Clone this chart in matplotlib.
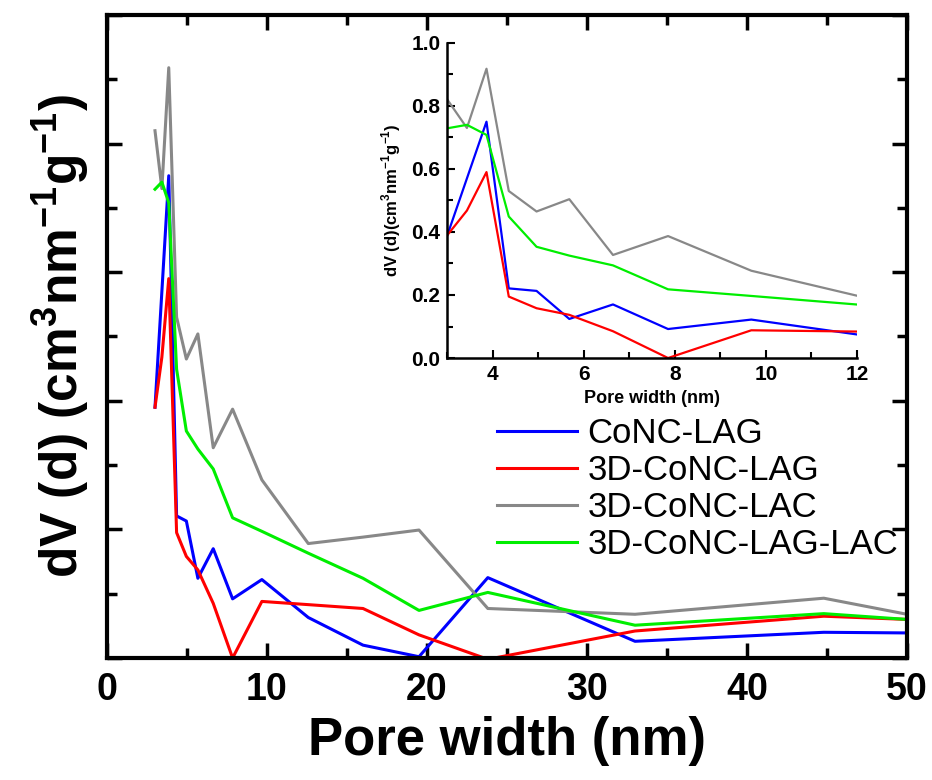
import numpy as np
import matplotlib
matplotlib.use("Agg")
import matplotlib.pyplot as plt
from matplotlib.ticker import MultipleLocator

plt.rcParams['font.family'] = ['Liberation Sans', 'DejaVu Sans']
plt.rcParams['mathtext.fontset'] = 'custom'
plt.rcParams['mathtext.rm'] = 'Liberation Sans'
plt.rcParams['mathtext.bf'] = 'Liberation Sans:bold'

# pore width (nm)
pore_width = [3.0, 3.43, 3.86, 4.35, 4.96, 5.68, 6.64, 7.85, 9.68, 12.58,
              16.0, 19.5, 23.8, 33.0, 44.8, 50.0]

# dV(d) values (cm3 nm-1 g-1)
conc_lag = [0.39, 0.57, 0.75, 0.221, 0.213, 0.124, 0.17, 0.092, 0.122, 0.063,
            0.020, 0.002, 0.125, 0.026, 0.040, 0.039]
conc_3d_lag = [0.39, 0.468, 0.59, 0.195, 0.158, 0.137, 0.085, 0.0, 0.088, 0.083,
               0.077, 0.036, -0.002, 0.042, 0.065, 0.060]
conc_3d_lac = [0.82, 0.73, 0.918, 0.53, 0.465, 0.504, 0.327, 0.387, 0.277, 0.178,
               0.188, 0.199, 0.077, 0.068, 0.093, 0.068]
conc_3d_lag_lac = [0.729, 0.74, 0.708, 0.449, 0.353, 0.325, 0.294, 0.218, 0.197, 0.163,
                   0.124, 0.074, 0.102, 0.051, 0.069, 0.060]

series_names = ['CoNC-LAG', '3D-CoNC-LAG', '3D-CoNC-LAC', '3D-CoNC-LAG-LAC']
series_vals = [conc_lag, conc_3d_lag, conc_3d_lac, conc_3d_lag_lac]
colors = ['#0000ff', '#ff0000', '#888888', '#00ee00']

fig = plt.figure(figsize=(9.32, 7.8), dpi=100)
ax = fig.add_axes([0.1148, 0.1564, 0.8584, 0.8244])

for name, vals, c in zip(series_names, series_vals, colors):
    ax.plot(pore_width, vals, color=c, lw=2.2, label=name)

ax.set_xlim(0, 50)
ax.set_ylim(0, 1.0)
ax.xaxis.set_major_locator(MultipleLocator(10))
ax.xaxis.set_minor_locator(MultipleLocator(5))
ax.yaxis.set_major_locator(MultipleLocator(0.2))
ax.yaxis.set_minor_locator(MultipleLocator(0.1))
ax.tick_params(which='both', direction='in', top=True, right=True, width=2.5)
ax.tick_params(which='major', length=11, labelsize=27, pad=10)
ax.tick_params(which='minor', length=7)
ax.tick_params(axis='y', labelleft=False)
for lab in ax.get_xticklabels():
    lab.set_fontweight('bold')
for sp in ax.spines.values():
    sp.set_linewidth(3)

ax.set_xlabel('Pore width (nm)', fontsize=38, fontweight='bold', labelpad=6)
ax.set_ylabel(r'dV (d) (cm$^{\mathbf{3}}$nm$^{\mathbf{-1}}$g$^{\mathbf{-1}}$)',
              fontsize=37, fontweight='bold', labelpad=8)

ax.legend(loc='upper left', bbox_to_anchor=(0.4875, 0.375), frameon=False,
          fontsize=25, handlelength=2.3, handletextpad=0.3, labelspacing=0.12,
          borderpad=0, borderaxespad=0)

# inset
ins = fig.add_axes([0.480, 0.541, 0.4394, 0.404])
for vals, c in zip(series_vals, colors):
    ins.plot(pore_width, vals, color=c, lw=1.6)
ins.set_xlim(3, 12)
ins.set_ylim(0, 1.0)
ins.xaxis.set_major_locator(MultipleLocator(2))
ins.xaxis.set_minor_locator(MultipleLocator(1))
ins.yaxis.set_major_locator(MultipleLocator(0.2))
ins.yaxis.set_minor_locator(MultipleLocator(0.1))
ins.spines['top'].set_visible(False)
ins.spines['right'].set_visible(False)
for sp in ins.spines.values():
    sp.set_linewidth(1.8)
ins.tick_params(which='both', direction='in', width=1.5)
ins.tick_params(which='major', length=6, labelsize=15, pad=5)
ins.tick_params(which='minor', length=4)
ins.yaxis.set_major_formatter(matplotlib.ticker.FormatStrFormatter('%.1f'))
for lab in ins.get_xticklabels() + ins.get_yticklabels():
    lab.set_fontweight('bold')
ins.set_xlabel('Pore width (nm)', fontsize=13, fontweight='bold', labelpad=4)
ins.set_ylabel(r'dV (d)(cm$^{\mathbf{3}}$nm$^{\mathbf{-1}}$g$^{\mathbf{-1}}$)',
               fontsize=12, fontweight='bold', labelpad=6)

fig.savefig('out.png', dpi=100)
